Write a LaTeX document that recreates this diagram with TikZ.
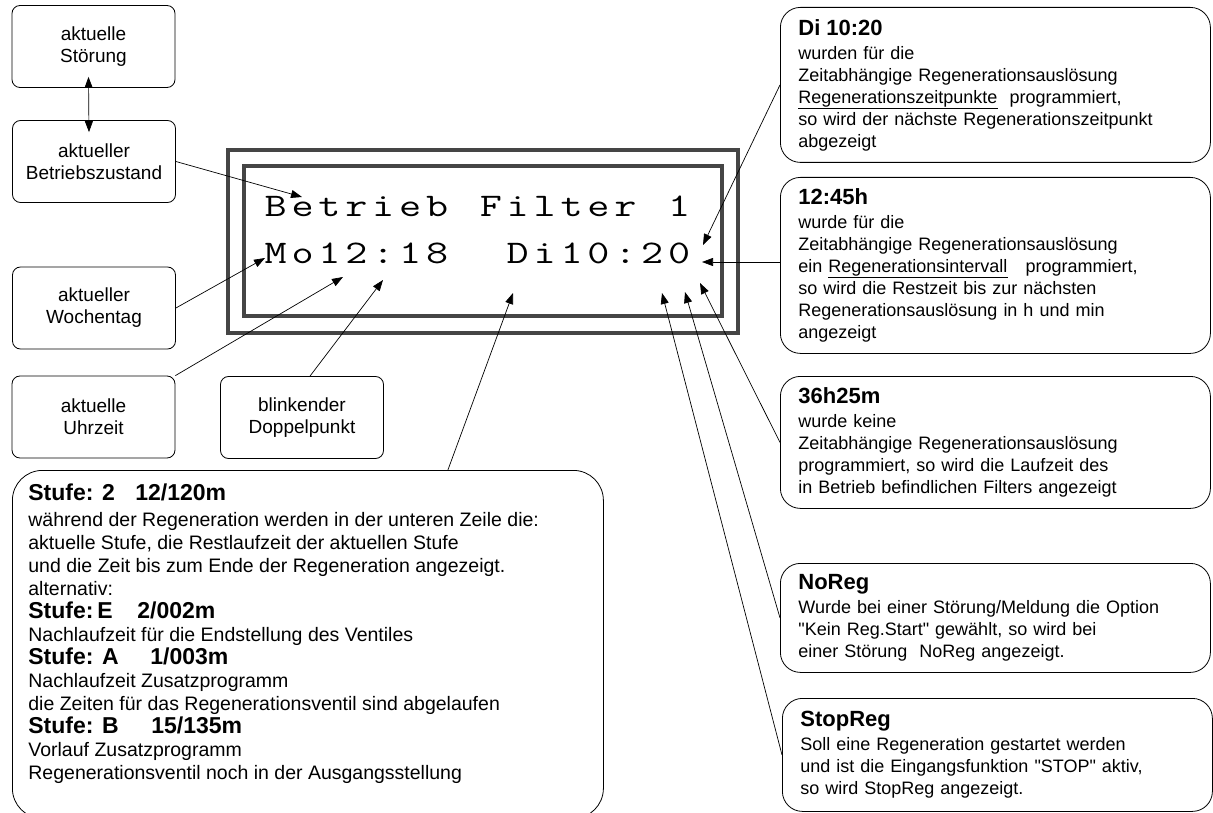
\documentclass[tikz,border=0pt]{standalone}
\usepackage{fontspec}
\usepackage{graphicx}
\setmainfont{Liberation Sans}
\usetikzlibrary{arrows.meta}

\definecolor{lcdgray}{HTML}{454545}
\newcommand{\boxfont}{\fontsize{19}{22}\selectfont}
\newcommand{\notefont}{\fontsize{18}{22}\selectfont}
\newcommand{\headfont}{\fontsize{22}{25}\selectfont\bfseries}
\newcommand{\stufefont}{\fontsize{19.5}{23}\selectfont}
\newcommand{\stufehead}{\fontsize{23}{25}\selectfont\bfseries}
\newcommand{\lcdfont}{\ttfamily\fontsize{33}{33}\selectfont}
% jedes Zeichen in eine feste Zelle der Anzeige
\makeatletter
\newcommand{\lcdtext}[1]{\lcd@next#1\@nil}
\def\lcd@next#1{\ifx\@nil#1\else\makebox[26.9pt]{\scalebox{1.3}[1]{#1}}\expandafter\lcd@next\fi}
\makeatother

\begin{document}
\begin{tikzpicture}[x=1pt, y=-1pt, >={Triangle[length=11pt,width=8pt]}]
        \useasboundingbox (0,0) rectangle (1213,813);

        % Anzeige
        \draw[lcdgray, line width=4pt] (228,150) rectangle (738,333);
        \draw[lcdgray, line width=4pt] (244,166) rectangle (722,316);
        \begin{scope}[every node/.style={anchor=base west, inner sep=0, font=\lcdfont}]
                \node (zeile1) at (262,217) {\lcdtext{Betrieb~Filter~1}};
                \node (zeile2) at (262,263) {\lcdtext{Mo12:18~~Di10:20}};
        \end{scope}

        \coordinate (tBetrieb) at (302,197);
        \coordinate (tTag) at (265,258);
        \coordinate (tUhr) at (343,277);
        \coordinate (tPunkt) at (383,280);
        \coordinate (tStufe) at (513,293);
        \coordinate (tDi) at (703,245);
        \coordinate (tIntervall) at (702,262);
        \coordinate (tLaufzeit) at (700,283);
        \coordinate (tNoReg) at (685,292);
        \coordinate (tStopReg) at (662,293);

        % linke Kaesten
        \begin{scope}[every node/.style={draw, line width=0.8pt, rounded corners=8pt, minimum width=163pt, minimum height=82pt, align=center, font=\boxfont}]
                \node (stoerung) at (93.5,46.5) {aktuelle\\Störung};
                \node (zustand) at (94,161.5) {aktueller\\Betriebszustand};
                \node (wochentag) at (94,308) {aktueller\\Wochentag};
                \node (uhrzeit) at (93.5,417) {aktuelle\\Uhrzeit};
                \node (doppelpunkt) at (302,417.5) {blinkender\\Doppelpunkt};
        \end{scope}

        % rechte Kaesten
        \begin{scope}[every node/.style={draw, line width=0.8pt, rounded corners=20pt, anchor=north west, text width=394pt, inner xsep=18pt, align=left, font=\notefont}]
                \node[minimum height=155pt] (di) at (780,7) {{\headfont Di 10:20}\\[2pt]
                        wurden für die\\
                        Zeitabhängige Regenerationsauslösung\\
                        \underline{Regenerationszeitpunkte}~~programmiert,\\
                        so wird der nächste Regenerationszeitpunkt\\
                        abgezeigt};
                \node[minimum height=176pt] (intervall) at (780,177) {{\headfont 12:45h}\\[2pt]
                        wurde für die\\
                        Zeitabhängige Regenerationsauslösung\\
                        ein \underline{Regenerationsintervall}~~~programmiert,\\
                        so wird die Restzeit bis zur nächsten\\
                        Regenerationsauslösung in h und min\\
                        angezeigt};
                \node[minimum height=132pt] (laufzeit) at (780,376) {{\headfont 36h25m}\\[2pt]
                        wurde keine\\
                        Zeitabhängige Regenerationsauslösung\\
                        programmiert, so wird die Laufzeit des\\
                        in Betrieb befindlichen Filters angezeigt};
                \node[minimum height=109pt] (noreg) at (780,563) {{\headfont NoReg}\\[2pt]
                        Wurde bei einer Störung/Meldung die Option\\
                        \textquotedbl Kein Reg.Start\textquotedbl{} gewählt, so wird bei\\
                        einer Störung~~NoReg angezeigt.};
                \node[minimum height=113pt] (stopreg) at (782,698) {{\headfont StopReg}\\[2pt]
                        Soll eine Regeneration gestartet werden\\
                        und ist die Eingangsfunktion \textquotedbl STOP\textquotedbl{} aktiv,\\
                        so wird StopReg angezeigt.};
        \end{scope}

        % Regenerationsstufen
        \node[draw, line width=0.8pt, rounded corners=30pt, anchor=north west, inner xsep=16pt, inner ysep=13pt] (stufe) at (12,470)
                {\parbox[c][322pt][t]{559pt}{\stufefont
                {\stufehead\makebox[107pt][l]{Stufe: 2}12/120m}\\[3pt]
                während der Regeneration werden in der unteren Zeile die:\\
                aktuelle Stufe, die Restlaufzeit der aktuellen Stufe\\
                und die Zeit bis zum Ende der Regeneration angezeigt.\\
                alternativ:\\
                {\stufehead\makebox[109pt][l]{Stufe:\,E}2/002m}\\
                Nachlaufzeit für die Endstellung des Ventiles\\
                {\stufehead\makebox[122pt][l]{Stufe: A}1/003m}\\
                Nachlaufzeit Zusatzprogramm\\
                die Zeiten für das Regenerationsventil sind abgelaufen\\
                {\stufehead\makebox[123pt][l]{Stufe: B}15/135m}\\
                Vorlauf Zusatzprogramm\\
                Regenerationsventil noch in der Ausgangsstellung}};

        % Pfeile
        \begin{scope}[->, line width=0.7pt]
                \path ([xshift=-5pt,yshift=11pt]stoerung.south) edge[<->] ([xshift=-5pt,yshift=-12pt]zustand.north);
                \path (zustand.east) edge (tBetrieb);
                \path (wochentag.east) edge (tTag);
                \path (uhrzeit.north east) edge (tUhr);
                \path ([xshift=8pt]doppelpunkt.north) edge (tPunkt);
                \path ([xshift=140pt]stufe.north) edge (tStufe);
                \path (di.west) edge (tDi);
                \path (tIntervall -| intervall.west) edge (tIntervall);
                \path (laufzeit.west) edge (tLaufzeit);
                \path (noreg.west) edge (tNoReg);
                \path (stopreg.west) edge (tStopReg);
        \end{scope}
\end{tikzpicture}
\end{document}
